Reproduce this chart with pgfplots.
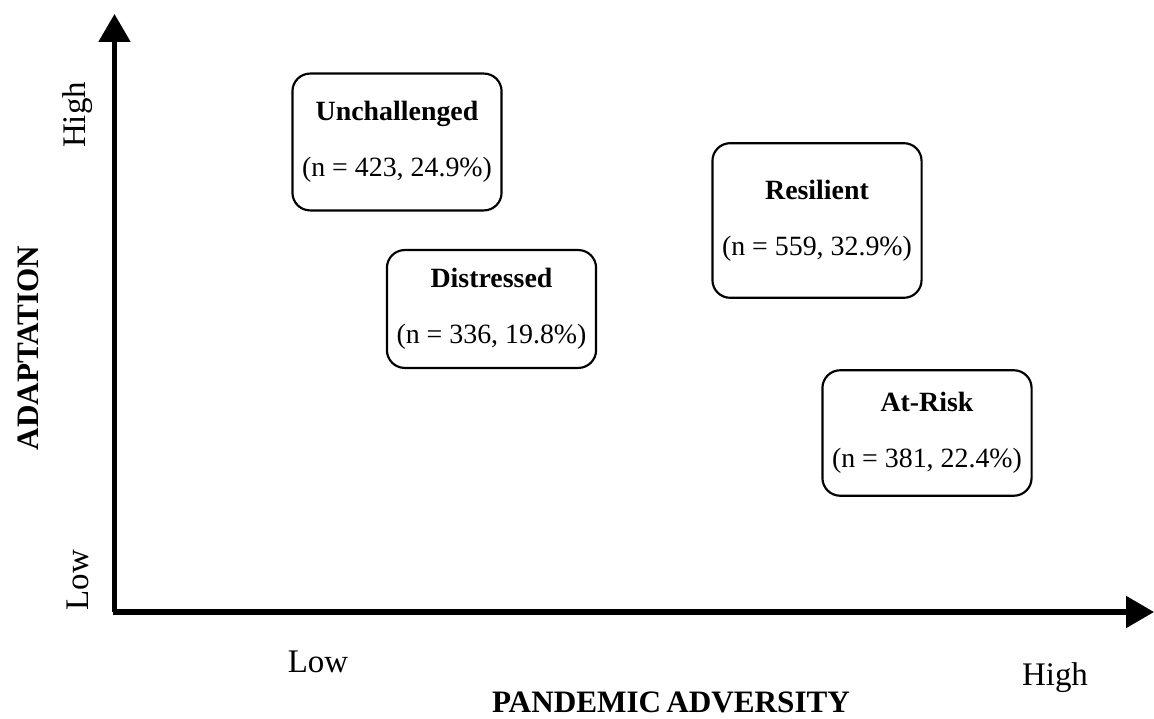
\documentclass[border=0pt]{standalone}
\usepackage{fontspec}
\setmainfont{Liberation Serif}
\usepackage{pgfplots}
\pgfplotsset{compat=1.18}
\usetikzlibrary{arrows.meta}
\begin{document}
\begin{tikzpicture}
\begin{axis}[
  scale only axis, width=16cm, height=9.955cm,
  xmin=0, xmax=1154, ymin=0, ymax=718,
  hide axis, clip=false,
  boxnode/.style={draw=none, mark=none, nodes near coords align=center,
    every node near coord/.append style={draw=black, line width=0.85pt, rounded corners=7pt,
      minimum width=82.5pt, align=center, anchor=center, font=\fontsize{11}{13}\selectfont, fill=white}},
]
% axes arrows
\addplot[black, line width=2pt, -{Triangle[width=12.2pt,length=11pt]}] coordinates {(114.5,106) (114.5,704)};
\addplot[black, line width=2pt, -{Triangle[width=12.2pt,length=11pt]}] coordinates {(112.5,106) (1154,106)};
% quadrant boxes
\addplot[boxnode, nodes near coords={\textbf{Unchallenged}\\[9pt](n = 423, 24.9\%)},
  every node near coord/.append style={minimum height=54pt}] coordinates {(397,576)};
\addplot[boxnode, nodes near coords={\textbf{Distressed}\\[9pt](n = 336, 19.8\%)},
  every node near coord/.append style={minimum height=46.5pt}] coordinates {(491.5,409)};
\addplot[boxnode, nodes near coords={\textbf{Resilient}\\[9pt](n = 559, 32.9\%)},
  every node near coord/.append style={minimum height=61pt}] coordinates {(817,497.5)};
\addplot[boxnode, nodes near coords={\textbf{At-Risk}\\[9pt](n = 381, 22.4\%)},
  every node near coord/.append style={minimum height=49.5pt}] coordinates {(927,285)};
% labels
\node[rotate=90, font=\fontsize{13}{15}\selectfont] at (axis cs:78,603) {High};
\node[rotate=90, font=\fontsize{13}{15}\selectfont] at (axis cs:78,138) {Low};
\node[rotate=90, font=\bfseries\fontsize{12.3}{14}\selectfont] at (axis cs:28,370) {ADAPTATION};
\node[font=\fontsize{13}{15}\selectfont] at (axis cs:318,56) {Low};
\node[font=\fontsize{13}{15}\selectfont] at (axis cs:1055,40) {High};
\node[font=\bfseries\fontsize{12.3}{14}\selectfont, inner sep=0pt] at (axis cs:671,16) {PANDEMIC\,ADVERSITY};
\end{axis}
\pgfresetboundingbox
\useasboundingbox (current axis.south west) rectangle (current axis.north east);
\end{tikzpicture}
\end{document}
